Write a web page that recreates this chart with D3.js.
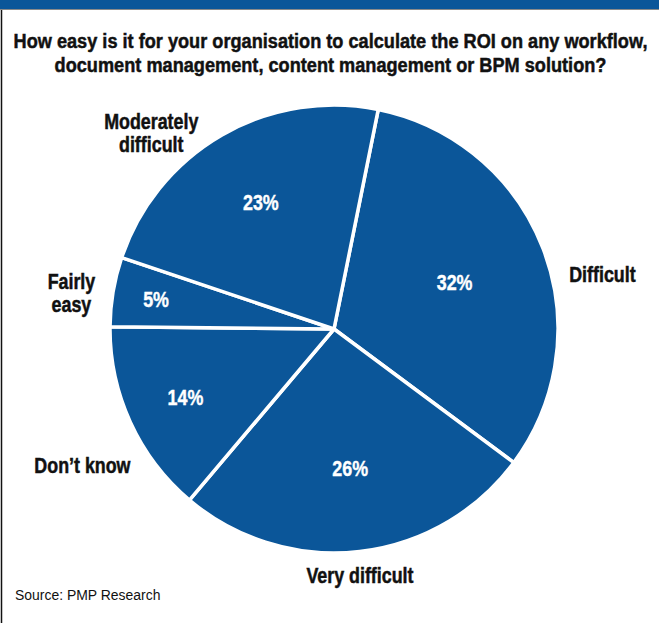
<!DOCTYPE html>
<html>
<head>
<meta charset="utf-8">
<script src="https://cdnjs.cloudflare.com/ajax/libs/d3/7.8.5/d3.min.js"></script>
<style>
  html, body { margin: 0; padding: 0; background: #fff; }
  svg { display: block; }
  text { font-family: "Liberation Sans", Arial, sans-serif; }
</style>
</head>
<body>
<script>
// data
const categories = ["Difficult", "Very difficult", "Don\u2019t know", "Fairly easy", "Moderately difficult"];
const shares = [32, 26, 14, 5, 23];
const titleLines = [
  "How easy is it for your organisation to calculate the ROI on any workflow,",
  "document management, content management or BPM solution?"
];
const sourceText = "Source: PMP Research";

const width = 659, height = 623;
const cx = 334, cy = 329, radius = 224;
const blue = "#0b5699";
// no condensed face installed, so squeeze the regular one
const squeeze = 0.83;

// hand placed outer labels (polar: degrees clockwise from 12 o'clock, px from centre)
const labelLayout = {
  "Difficult":            { angle: 78.4,  r: 274, lines: ["Difficult"] },
  "Very difficult":       { angle: 174,   r: 248, lines: ["Very difficult"] },
  "Don\u2019t know":      { angle: 241.6, r: 286, lines: ["Don\u2019t know"] },
  "Fairly easy":          { angle: 277.8, r: 265, lines: ["Fairly", "easy"] },
  "Moderately difficult": { angle: 317,   r: 268, lines: ["Moderately", "difficult"] }
};

const data = categories.map((c, i) => ({ name: c, value: shares[i] }));

const svg = d3.select("body").append("svg")
  .attr("width", width)
  .attr("height", height);

// top strip and left frame line
svg.append("rect").attr("x", 0).attr("y", 0).attr("width", width).attr("height", 9).attr("fill", blue);
svg.append("line").attr("x1", 0).attr("x2", width).attr("y1", 9.5).attr("y2", 9.5)
  .attr("stroke", "#8a8a8a").attr("stroke-width", 1);
svg.append("line").attr("x1", 1.5).attr("x2", 1.5).attr("y1", 10).attr("y2", height)
  .attr("stroke", "#111").attr("stroke-width", 1.5);

// title
svg.append("g").selectAll("text")
  .data(titleLines)
  .enter()
  .append("text")
  .attr("transform", (d, i) => `translate(${width / 2 + 1},${48 + i * 24}) scale(0.865,1)`)
  .attr("text-anchor", "middle")
  .attr("font-weight", "bold")
  .attr("font-size", 21)
  .attr("fill", "#111")
  .attr("stroke", "#111")
  .attr("stroke-width", 0.5)
  .text(d => d);

// pie
const offset = 11.4 * Math.PI / 180;
const pie = d3.pie()
  .sort(null)
  .value(d => d.value)
  .startAngle(offset)
  .endAngle(offset + 2 * Math.PI);

const arc = d3.arc().innerRadius(0).outerRadius(radius);
const arcs = pie(data);

const g = svg.append("g").attr("transform", `translate(${cx},${cy})`);

g.selectAll("path.slice")
  .data(arcs)
  .enter()
  .append("path")
  .classed("slice", true)
  .attr("d", arc)
  .attr("fill", blue)
  .attr("stroke", "#fff")
  .attr("stroke-width", 3.5)
  .attr("stroke-linejoin", "round");

const polar = (deg, r) => {
  const a = deg * Math.PI / 180;
  return [r * Math.sin(a), -r * Math.cos(a)];
};

// percentages: smaller slices sit further out
g.selectAll("text.pct")
  .data(arcs)
  .enter()
  .append("text")
  .classed("pct", true)
  .attr("transform", d => {
    const mid = (d.startAngle + d.endAngle) / 2;
    const r = 190 - 1.9 * d.data.value;
    return `translate(${r * Math.sin(mid)},${-r * Math.cos(mid)}) scale(${squeeze},1)`;
  })
  .attr("text-anchor", "middle")
  .attr("dy", "0.36em")
  .attr("font-weight", "bold")
  .attr("font-size", 21.5)
  .attr("fill", "#fff")
  .attr("stroke", "#fff")
  .attr("stroke-width", 0.4)
  .text(d => d.data.value + "%");

// outer category labels
const outer = g.selectAll("g.lbl")
  .data(arcs)
  .enter()
  .append("g")
  .classed("lbl", true)
  .attr("transform", d => {
    const L = labelLayout[d.data.name];
    return `translate(${polar(L.angle, L.r)}) scale(${squeeze},1)`;
  });

outer.each(function(d) {
  const lines = labelLayout[d.data.name].lines;
  const lh = 23;
  d3.select(this).selectAll("text")
    .data(lines)
    .enter()
    .append("text")
    .attr("text-anchor", "middle")
    .attr("y", (t, i) => (i - (lines.length - 1) / 2) * lh)
    .attr("dy", "0.36em")
    .attr("font-weight", "bold")
    .attr("font-size", 21.5)
    .attr("fill", "#111")
    .attr("stroke", "#111")
    .attr("stroke-width", 0.5)
    .text(t => t);
});

// source
svg.append("text")
  .attr("transform", "translate(15,600) scale(0.9,1)")
  .attr("font-size", 15.5)
  .attr("fill", "#111")
  .text(sourceText);
</script>
</body>
</html>
